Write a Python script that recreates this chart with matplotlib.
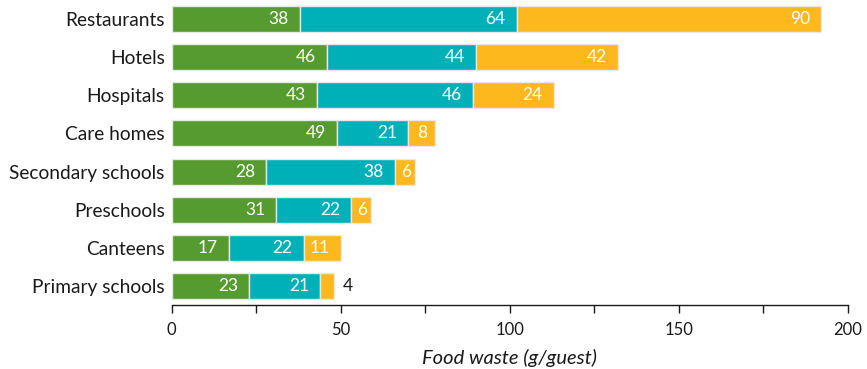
import matplotlib
matplotlib.use("Agg")
import matplotlib.pyplot as plt
from matplotlib.ticker import MultipleLocator

categories = ["Restaurants", "Hotels", "Hospitals", "Care homes",
              "Secondary schools", "Preschools", "Canteens", "Primary schools"]
seg1 = [38, 46, 43, 49, 28, 31, 17, 23]
seg2 = [64, 44, 46, 21, 38, 22, 22, 21]
seg3 = [90, 42, 24, 8, 6, 6, 11, 4]
colors = ["#559b2f", "#00b0b9", "#fdb81e"]
x_ticks = [0, 50, 100, 150, 200]

plt.rcParams['font.family'] = ['Lato', 'DejaVu Sans']

fig = plt.figure(figsize=(8.67, 3.69), dpi=100)
ax = fig.add_axes([0.198, 0.1734, 0.78, 0.8266])
ax.set_xlim(0, 200)

n = len(categories)
ax.set_ylim(-0.5, n - 0.5)
ypos = [n - 1 - i for i in range(n)]
px_per_unit = 0.78 * 867 / 200.0
pad_px = 11
lefts = [0] * n
for si, seg in enumerate([seg1, seg2, seg3]):
    ax.barh(ypos, seg, left=lefts, height=0.68, color=colors[si],
            edgecolor="#e8e8e8", linewidth=1.0)
    for y, v, l in zip(ypos, seg, lefts):
        end = l + v
        seg_px = v * px_per_unit
        lab_px = 7.5 * len(str(v))
        if si == 2 and v < 5:
            ax.annotate(str(v), (end, y), xytext=(6, 0), textcoords="offset points",
                        ha="left", va="center", color="#1a1a1a", fontsize=12.5)
        elif seg_px < lab_px + 2 * pad_px:
            ax.annotate(str(v), (l + v / 2.0, y), xytext=(0.5, 0), textcoords="offset points",
                        ha="center", va="center", color="white", fontsize=12.5)
        else:
            ax.annotate(str(v), (end, y), xytext=(-8, 0), textcoords="offset points",
                        ha="right", va="center", color="white", fontsize=12.5)
    lefts = [l + v for l, v in zip(lefts, seg)]

ax.set_yticks(ypos)
ax.set_yticklabels(categories, fontsize=13.8, color="#1a1a1a")
ax.tick_params(axis="y", length=0, pad=5)
ax.set_xticks(x_ticks)
ax.xaxis.set_minor_locator(MultipleLocator(25))
ax.tick_params(axis="x", which="both", length=6, width=1, direction="out",
               labelsize=12, colors="#1a1a1a", pad=6)
for s in ["left", "right", "top"]:
    ax.spines[s].set_visible(False)
ax.spines["bottom"].set_linewidth(1.0)
ax.spines["bottom"].set_color("#1a1a1a")
ax.set_xlabel("Food waste (g/guest)", fontsize=14.5, style="italic",
              color="#1a1a1a", labelpad=8)

fig.savefig("out.png", dpi=100)
